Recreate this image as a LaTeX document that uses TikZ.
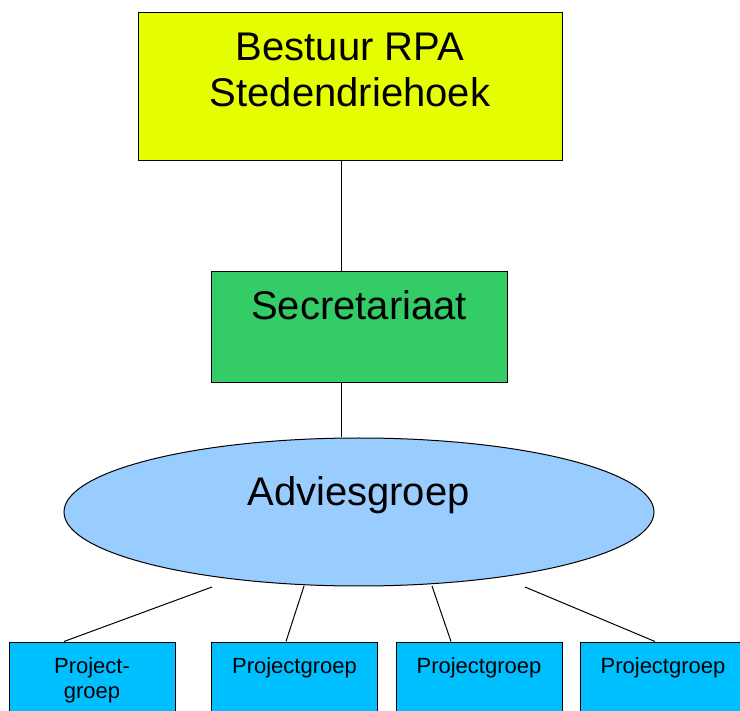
\documentclass[tikz,border=0pt]{standalone}
\usepackage{fontspec}
\setmainfont{Liberation Sans}
\usepackage{tikz}
\usetikzlibrary{positioning,shapes.geometric}

\definecolor{bestuurgeel}{RGB}{230,255,0}
\definecolor{secrgroen}{RGB}{51,204,102}
\definecolor{adviesblauw}{RGB}{153,204,255}
\definecolor{projblauw}{RGB}{0,191,255}

\begin{document}
\begin{tikzpicture}[
  x=1pt, y=-1pt,
  box/.style={draw, line width=1pt, rectangle, inner sep=0pt},
  lbl/.style={anchor=north, inner sep=0pt, align=center, font=\fontsize{40}{46}\selectfont},
  plbl/.style={anchor=north, inner sep=0pt, align=center, font=\fontsize{22}{24.5}\selectfont},
  pgbox/.style={box, fill=projblauw, minimum width=166pt, minimum height=100pt},
  verb/.style={draw, line width=1pt}
]
\useasboundingbox (0,0) rectangle (740,711);

\node[box, fill=bestuurgeel, minimum width=424pt, minimum height=148pt,
  label={[lbl, yshift=-20pt]north:{Bestuur RPA\\Stedendriehoek}}] (bestuur) at (350,87) {};
\node[box, fill=secrgroen, minimum width=296pt, minimum height=111pt,
  label={[lbl, yshift=-19pt]north:{Secretariaat}}] (secr) at (359,327.5) {};
\node[draw, line width=1pt, ellipse, fill=adviesblauw, inner sep=0pt,
  minimum width=590pt, minimum height=148pt] (advies) at (359,512) {};
\node[anchor=base, inner sep=0pt, font=\fontsize{40}{45}\selectfont] (adviestekst) at (358.5,506) {Adviesgroep};

% projectgroepen
\node[pgbox, label={[plbl, yshift=-16pt]north:{Project-\\groep}}] (pg1) at (92,692) {};
\node[pgbox, label={[plbl, yshift=-16pt]north:{Projectgroep}}] (pg2) at (294.5,692) {};
\node[pgbox, label={[plbl, yshift=-16pt]north:{Projectgroep}}] (pg3) at (479,692) {};
\node[pgbox, label={[plbl, yshift=-16pt]north:{Projectgroep}}] (pg4) at (663,692) {};

\coordinate (spine) at (341,0);
\coordinate (a1) at (212,587);
\coordinate (a2) at (304,586);
\coordinate (a3) at (432,586);
\coordinate (a4) at (525,587);

\draw[verb] (bestuur.south -| spine) -- (secr.north -| spine);
\draw[verb] (secr.south -| spine) -- (advies.north -| spine);
\draw[verb] (a1) -- ([xshift=-28pt]pg1.north);
\draw[verb] (a2) -- ([xshift=-8.5pt]pg2.north);
\draw[verb] (a3) -- ([xshift=-28pt]pg3.north);
\draw[verb] (a4) -- ([xshift=-8pt]pg4.north);
\end{tikzpicture}
\end{document}
